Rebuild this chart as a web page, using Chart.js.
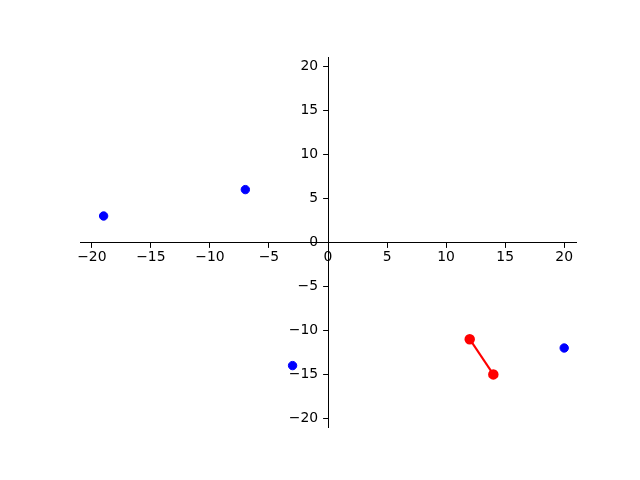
<!DOCTYPE html>
<html>
<head>
<meta charset="utf-8">
<script src="https://cdn.jsdelivr.net/npm/chart.js@4/dist/chart.umd.min.js"></script>
<style>
  html, body { margin: 0; padding: 0; background: #fff; }
  #wrap { width: 640px; height: 480px; }
</style>
</head>
<body>
<div id="wrap"><canvas id="chart" width="640" height="480"></canvas></div>
<script>
// data
const blueX = [-19, -7, -3, 20];
const blueY = [3, 6, -14, -12];
const redX = [12, 14];
const redY = [-11, -15];
const xTicks = [-20, -15, -10, -5, 0, 5, 10, 15, 20];
const yTicks = [-20, -15, -10, -5, 0, 5, 10, 15, 20];
const axisMin = -21;
const axisMax = 21;

function toPoints(xs, ys) {
  return xs.map((x, i) => ({ x: x, y: ys[i] }));
}

function fmt(v) {
  return String(v).replace("-", "\u2212");
}

Chart.defaults.font.family = "'DejaVu Sans', sans-serif";
Chart.defaults.font.size = 13.9;
Chart.defaults.color = "#000";

const ctx = document.getElementById("chart").getContext("2d");
new Chart(ctx, {
  type: "scatter",
  data: {
    datasets: [
      {
        data: toPoints(blueX, blueY),
        backgroundColor: "#0000ff",
        borderColor: "#0000ff",
        pointRadius: 4.2,
        pointHoverRadius: 4.2,
        showLine: false
      },
      {
        data: toPoints(redX, redY),
        backgroundColor: "#ff0000",
        borderColor: "#ff0000",
        borderWidth: 2.1,
        pointRadius: 4.2,
        pointHoverRadius: 4.2,
        showLine: true
      }
    ]
  },
  options: {
    responsive: false,
    animation: false,
    layout: { padding: { left: 80, right: 64, top: 57.6, bottom: 52.8 } },
    plugins: {
      legend: { display: false },
      tooltip: { enabled: false }
    },
    scales: {
      // symmetric range, so the centre of the plot area is the zero line
      x: {
        type: "linear",
        position: "center",
        min: axisMin,
        max: axisMax,
        afterBuildTicks: axis => { axis.ticks = xTicks.map(v => ({ value: v })); },
        grid: { drawOnChartArea: false, drawTicks: true, tickLength: 4.9, color: "#000", tickWidth: 1 },
        border: { display: true, color: "#000", width: 1 },
        ticks: { padding: 2, maxRotation: 0, autoSkip: false, callback: v => fmt(v) }
      },
      y: {
        type: "linear",
        position: "center",
        min: axisMin,
        max: axisMax,
        afterBuildTicks: axis => { axis.ticks = yTicks.map(v => ({ value: v })); },
        grid: { drawOnChartArea: false, drawTicks: true, tickLength: 4.9, color: "#000", tickWidth: 1 },
        border: { display: true, color: "#000", width: 1 },
        ticks: { padding: 5, autoSkip: false, callback: v => fmt(v) }
      }
    }
  }
});
</script>
</body>
</html>
